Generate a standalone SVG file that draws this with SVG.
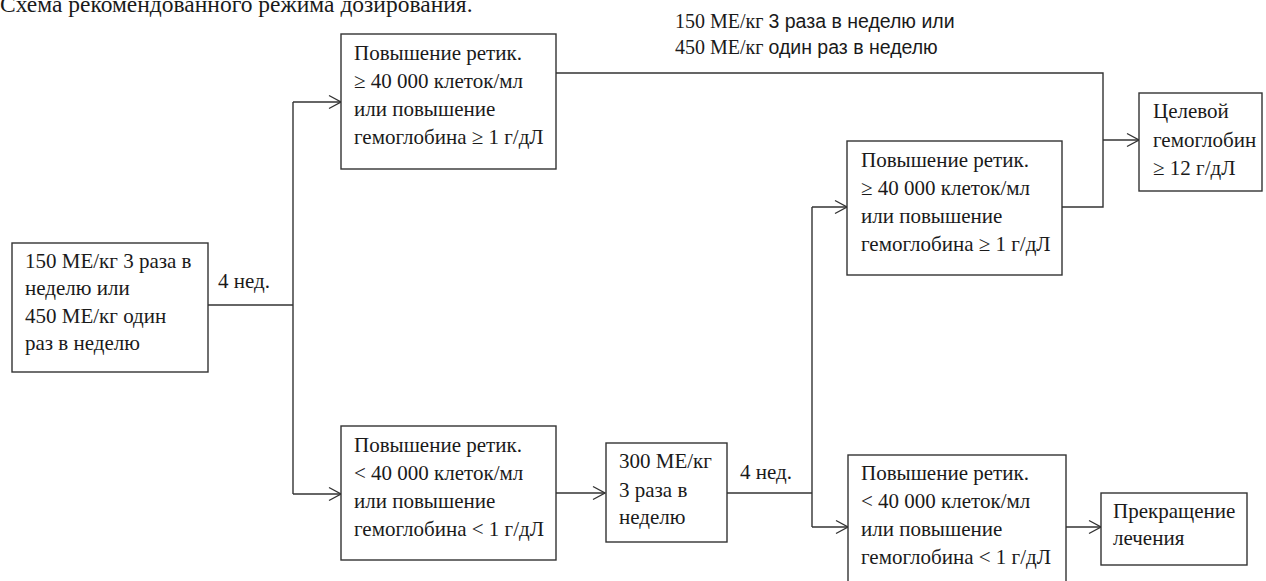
<svg xmlns="http://www.w3.org/2000/svg" width="1266" height="581" viewBox="0 0 1266 581">
<defs>
<style>
.box{fill:#fff;stroke:#333;stroke-width:1.4}
.t{font-family:"Liberation Serif","Times New Roman",serif;font-size:21px;fill:#1a1a1a}
.s{font-family:"Liberation Sans",Arial,sans-serif}
.c{fill:none;stroke:#333;stroke-width:1.4}
</style>
<marker id="ar" markerUnits="userSpaceOnUse" markerWidth="16" markerHeight="16" refX="13" refY="8" orient="auto">
<path d="M1,1.5 L13,8 L1,14.5" fill="none" stroke="#333" stroke-width="1.4"/>
</marker>
</defs>
<rect width="1266" height="581" fill="#fff"/>
<text class="t" x="0" y="12" style="font-size:23.5px">Схема рекомендованного режима дозирования.</text>
<g id="connectors">
<path class="c" d="M208,305 H293"/>
<path class="c" d="M293,102 V494"/>
<path class="c" d="M293,102 H341" marker-end="url(#ar)"/>
<path class="c" d="M293,494 H341" marker-end="url(#ar)"/>
<path class="c" d="M556,73 H1103 V207 H1062"/>
<path class="c" d="M1103,140 H1139" marker-end="url(#ar)"/>
<path class="c" d="M556,493 H605" marker-end="url(#ar)"/>
<path class="c" d="M727,493 H812"/>
<path class="c" d="M812,207 V527"/>
<path class="c" d="M812,207 H847" marker-end="url(#ar)"/>
<path class="c" d="M812,527 H848" marker-end="url(#ar)"/>
<path class="c" d="M1066,527 H1101" marker-end="url(#ar)"/>
<text class="t" x="218" y="288">4 нед.</text>
<text class="t" x="740" y="479">4 нед.</text>
<text class="t" x="675" y="28" style="font-size:20px">150 МЕ/кг <tspan class="s" style="font-size:19.5px">3 раза в неделю или</tspan></text>
<text class="t" x="675" y="54" style="font-size:20px">450 МЕ/кг <tspan class="s" style="font-size:19.5px">один раз в неделю</tspan></text>
</g>
<g id="nodeA">
<rect class="box" x="12" y="243" width="196" height="129"/>
<text class="t" x="25" y="268">150 МЕ/кг 3 раза в</text>
<text class="t" x="25" y="295">неделю или</text>
<text class="t" x="25" y="323">450 МЕ/кг один</text>
<text class="t" x="25" y="350">раз в неделю</text>
</g>
<g id="nodeB">
<rect class="box" x="341" y="34" width="215" height="135"/>
<text class="t" x="354" y="60">Повышение ретик.</text>
<text class="t" x="354" y="88">≥ 40 000 клеток/мл</text>
<text class="t" x="354" y="116">или повышение</text>
<text class="t" x="354" y="144">гемоглобина ≥ 1 г/дЛ</text>
</g>
<g id="nodeC">
<rect class="box" x="341" y="426" width="215" height="134"/>
<text class="t" x="354" y="452">Повышение ретик.</text>
<text class="t" x="354" y="480">&lt; 40 000 клеток/мл</text>
<text class="t" x="354" y="508">или повышение</text>
<text class="t" x="354" y="536">гемоглобина &lt; 1 г/дЛ</text>
</g>
<g id="nodeE">
<rect class="box" x="606" y="443" width="121" height="99"/>
<text class="t" x="619" y="468">300 МЕ/кг</text>
<text class="t" x="619" y="497">3 раза в</text>
<text class="t" x="619" y="524">неделю</text>
</g>
<g id="nodeD">
<rect class="box" x="847" y="141" width="215" height="134"/>
<text class="t" x="861" y="167">Повышение ретик.</text>
<text class="t" x="861" y="195">≥ 40 000 клеток/мл</text>
<text class="t" x="861" y="223">или повышение</text>
<text class="t" x="861" y="251">гемоглобина ≥ 1 г/дЛ</text>
</g>
<g id="nodeF">
<rect class="box" x="848" y="455" width="218" height="135"/>
<text class="t" x="861" y="480">Повышение ретик.</text>
<text class="t" x="861" y="508">&lt; 40 000 клеток/мл</text>
<text class="t" x="861" y="536">или повышение</text>
<text class="t" x="861" y="564">гемоглобина &lt; 1 г/дЛ</text>
</g>
<g id="nodeTarget">
<rect class="box" x="1139" y="93" width="123" height="98"/>
<text class="t" x="1153" y="118">Целевой</text>
<text class="t" x="1153" y="147">гемоглобин</text>
<text class="t" x="1153" y="175">≥ 12 г/дЛ</text>
</g>
<g id="nodeStop">
<rect class="box" x="1101" y="493" width="146" height="72"/>
<text class="t" x="1113" y="518">Прекращение</text>
<text class="t" x="1113" y="545">лечения</text>
</g>
</svg>
